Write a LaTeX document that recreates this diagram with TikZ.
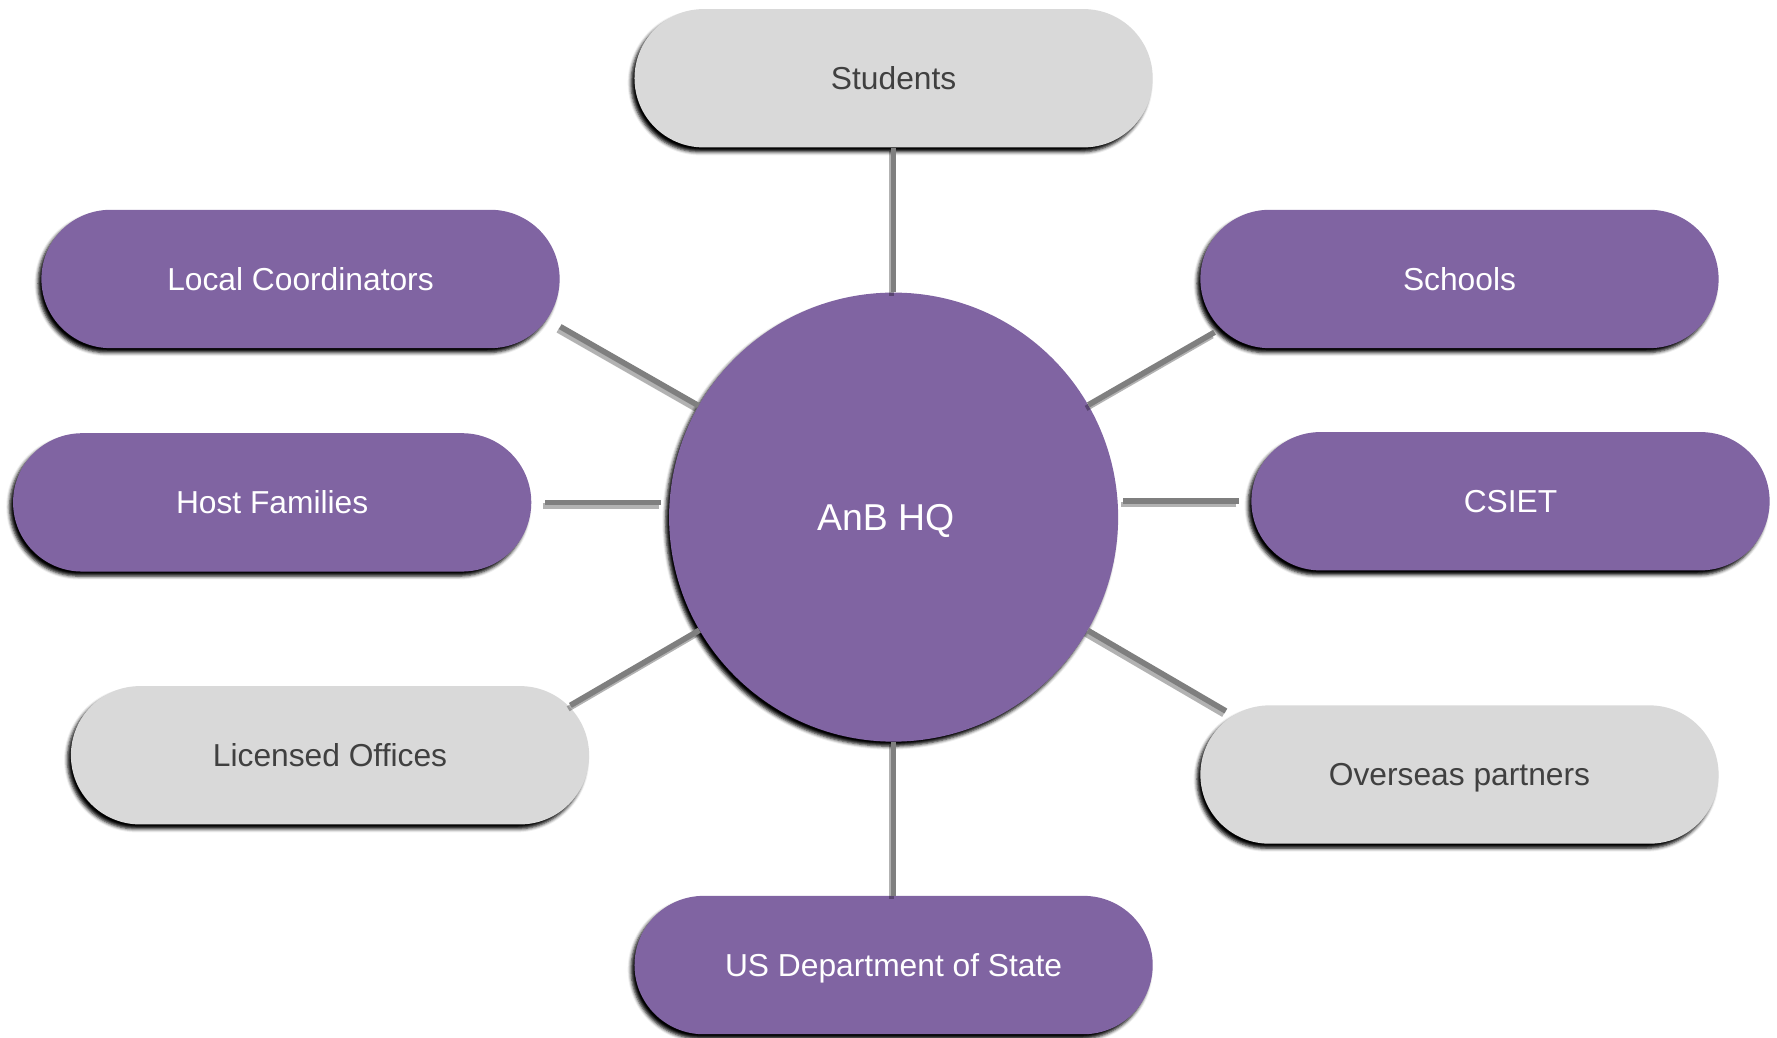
\documentclass[tikz,border=0pt]{standalone}
\usepackage{fontspec}
\setmainfont{Liberation Sans}
\usetikzlibrary{shadows.blur,calc}
\definecolor{anbpurple}{HTML}{8064A2}
\definecolor{anbgray}{HTML}{D9D9D9}
\definecolor{anbtext}{HTML}{404040}
\definecolor{anbline}{HTML}{7F7F7F}
\tikzset{
  pill/.style={rectangle, rounded corners=61pt, minimum width=457pt, minimum height=122pt,
    inner sep=0pt, text depth=0pt, font=\fontsize{28}{34}\selectfont,
    blur shadow={shadow xshift=-3pt, shadow yshift=-4pt, shadow blur radius=3pt, shadow opacity=100}},
  purplepill/.style={pill, fill=anbpurple, text=white},
  graypill/.style={pill, fill=anbgray, text=anbtext},
  hub/.style={circle, minimum size=396pt, inner sep=0pt, text depth=0pt, fill=anbpurple, text=white,
    font=\fontsize{33}{40}\selectfont,
    blur shadow={shadow xshift=-3pt, shadow yshift=-4pt, shadow blur radius=3pt, shadow opacity=100}},
  link/.style={draw=anbline, line width=5pt,
    preaction={draw=black, opacity=0.3, line width=5pt, transform canvas={shift={(-2pt,-3pt)}}}}
}
\begin{document}
\begin{tikzpicture}[x=1pt,y=-1pt]
\useasboundingbox (0,0) rectangle (1567,915.3);
\coordinate (lcE) at (494,288);
\coordinate (scE) at (1071,293);
\coordinate (loE) at (503,622);
\coordinate (opE) at (1081,627);
% nodes
\node[hub] (hq) at (788,456) {\hspace*{-14pt}AnB HQ};
\node[graypill] (st) at (788,69) {Students};
\node[purplepill] (lc) at (265,246) {Local Coordinators};
\node[purplepill] (sc) at (1287,246) {Schools};
\node[purplepill] (hf) at (240,443) {Host Families};
\node[purplepill] (cs) at (1332,442) {CSIET};
\node[graypill] (lo) at (291,666) {Licensed Offices};
\node[graypill] (op) at (1287,683) {Overseas partners};
\node[purplepill] (us) at (788,851) {US Department of State};
% connectors
\draw[link] (hq) -- (st);
\draw[link] (hq) -- (us);
\draw[link] (hq) -- (lcE);
\draw[link] (hq) -- (scE);
\draw[link] (hq) -- (loE);
\draw[link] (hq) -- (opE);
\draw[link, shorten <=12pt, shorten >=7pt] (hf.east) -- (hf.east -| hq.west);
\draw[link, shorten <=11pt, shorten >=4pt] (cs.west) -- (cs.west -| hq.east);
\end{tikzpicture}
\end{document}
